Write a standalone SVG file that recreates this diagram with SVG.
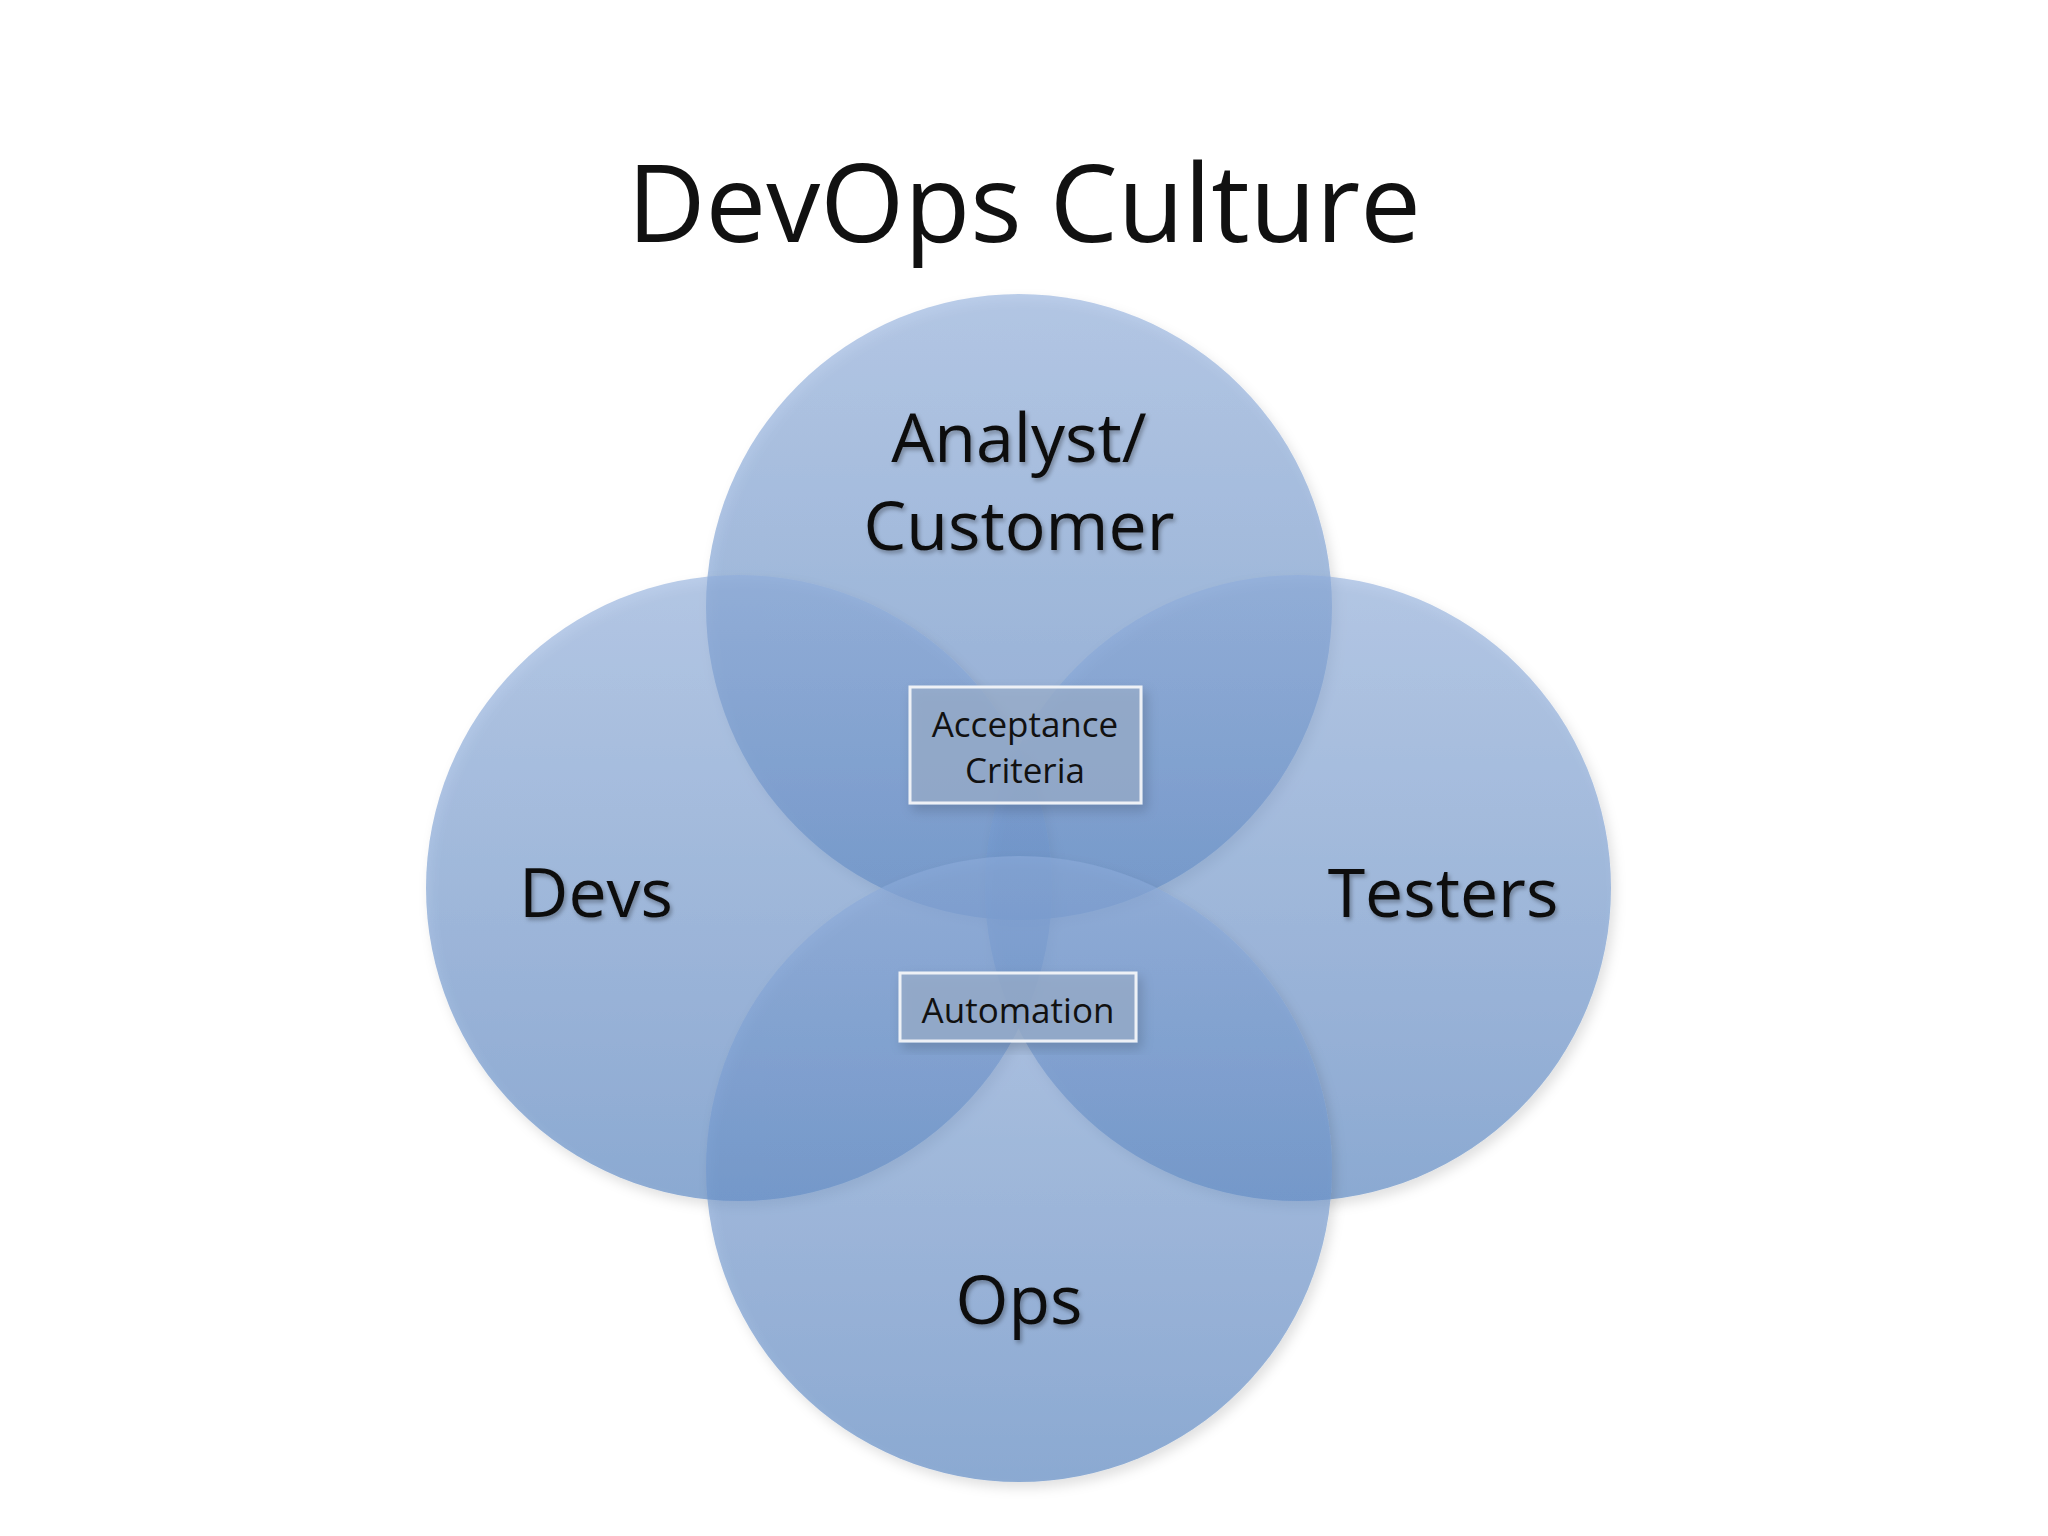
<svg xmlns="http://www.w3.org/2000/svg" width="2048" height="1536" viewBox="0 0 2048 1536">
<defs>
<linearGradient id="g" x1="0" y1="0" x2="0" y2="1">
<stop offset="0" stop-color="#8eacdb"/>
<stop offset="1" stop-color="#4f7fbf"/>
</linearGradient>
<filter id="sh" x="-20%" y="-20%" width="140%" height="140%"><feDropShadow dx="4" dy="6" stdDeviation="6" flood-color="#000" flood-opacity="0.2"/></filter>
<filter id="ts"><feDropShadow dx="2" dy="3" stdDeviation="2" flood-color="#000" flood-opacity="0.3"/></filter>
</defs>
<style>
.c{fill:url(#g);fill-opacity:0.6;filter:url(#sh)}
.t{font-family:"Open Sans","Noto Sans",sans-serif;fill:#111;text-anchor:middle}
.big{font-size:68px;filter:url(#ts)}
.box{fill:#9aaecb;fill-opacity:0.7;stroke:#eef1f6;stroke-width:3;filter:url(#sh)}
.sm{font-size:35px}
</style>
<rect width="2048" height="1536" fill="#fff"/>
<text class="t" x="1024" y="242" font-size="108">DevOps Culture</text>
<g id="nodes">
<g id="analyst"><circle class="c" cx="1019" cy="607" r="313"/></g>
<g id="devs"><circle class="c" cx="739" cy="888" r="313"/></g>
<g id="testers"><circle class="c" cx="1298" cy="888" r="313"/></g>
<g id="ops"><circle class="c" cx="1019" cy="1169" r="313"/></g>
</g>
<g id="labels">
<text class="t big" x="1019" y="462">Analyst/</text>
<text class="t big" x="1019" y="550">Customer</text>
<text class="t big" x="596" y="917">Devs</text>
<text class="t big" x="1443" y="917">Testers</text>
<text class="t big" x="1019" y="1324">Ops</text>
</g>
<g id="acceptance"><rect class="box" x="910" y="687" width="231" height="116"/>
<text class="t sm" x="1025" y="737">Acceptance</text><text class="t sm" x="1025" y="783">Criteria</text></g>
<g id="automation"><rect class="box" x="900" y="973" width="236" height="68"/>
<text class="t sm" x="1018" y="1023">Automation</text></g>
<g id="connectors"/>
</svg>
